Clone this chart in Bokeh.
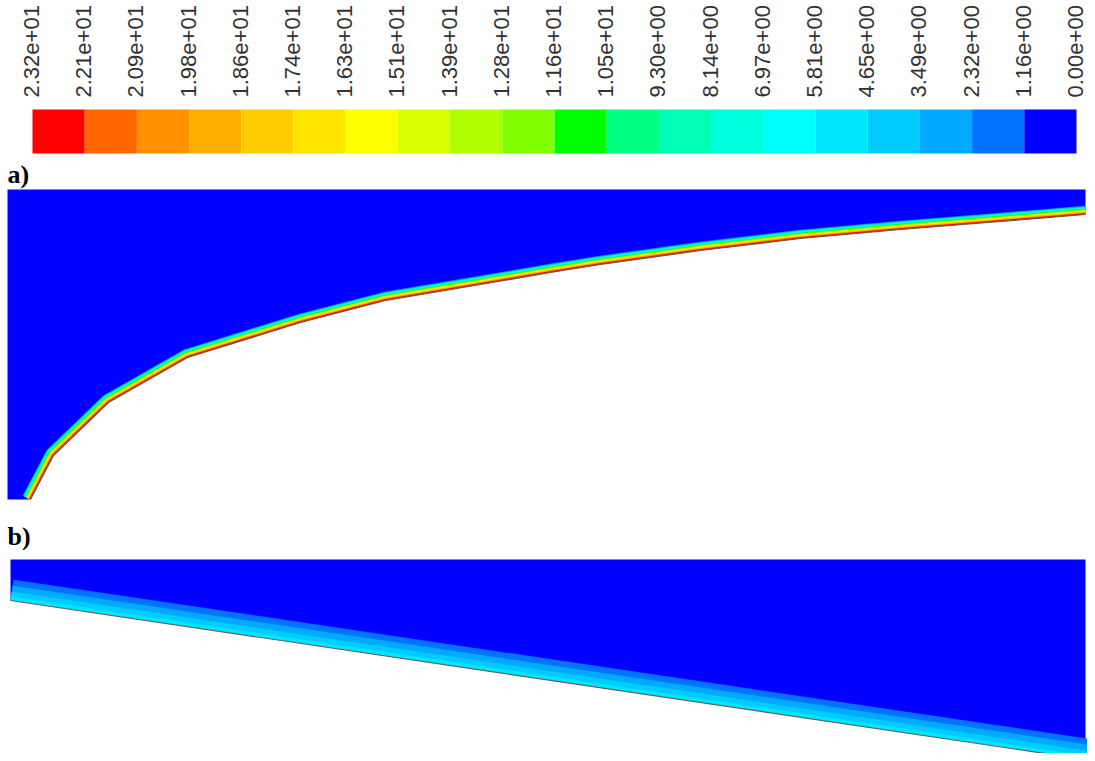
import numpy as np
from bokeh.plotting import figure
from bokeh.models import Range1d
from bokeh.core.properties import value
from bokeh.embed import file_html
from bokeh.resources import INLINE

# ---------------- data ----------------
level_labels = ["2.32e+01", "2.21e+01", "2.09e+01", "1.98e+01", "1.86e+01", "1.74e+01",
                "1.63e+01", "1.51e+01", "1.39e+01", "1.28e+01", "1.16e+01", "1.05e+01",
                "9.30e+00", "8.14e+00", "6.97e+00", "5.81e+00", "4.65e+00", "3.49e+00",
                "2.32e+00", "1.16e+00", "0.00e+00"]
level_colors = ["#ff0000", "#ff6600", "#ff9000", "#ffb000", "#ffcc00", "#ffe600", "#ffff00",
                "#d9ff00", "#afff00", "#80ff00", "#00ff00", "#00ff80", "#00ffb4", "#00ffdc",
                "#00ffff", "#00e6ff", "#00ccff", "#00aaff", "#0073ff", "#0000ff"]

# wall contour of case a) (image coordinates)
wall_a_x = [30, 53, 108, 187, 300, 385, 480, 550, 600, 700, 800, 900, 1000, 1085]
wall_a_y = [499, 455, 402, 357, 322, 300, 284, 272, 264, 250, 238, 229, 221, 214]
# wall contour of case b)
wall_b_x = [10, 1085]
wall_b_y = [600, 759]
# contour levels present in the wall layer of b) (index into level_colors)
b_levels = [18, 17, 16, 15]

# ---------------- figure ----------------
W, H = 1087, 753
p = figure(width=W, height=H, x_range=Range1d(0, W), y_range=Range1d(H, 0),
           output_backend="svg", toolbar_location=None, min_border=0,
           x_axis_type=None, y_axis_type=None, background_fill_color="white",
           border_fill_color="white")
p.grid.visible = False
p.outline_line_color = None

# colorbar
cb_x0, cb_x1, cb_top, cb_bot = 32, 1076, 109, 153
n = len(level_colors)
sw = (cb_x1 - cb_x0) / n
lefts = [cb_x0 + i * sw for i in range(n)]
rights = [l + sw for l in lefts]
p.quad(left=lefts, right=rights, top=cb_top, bottom=cb_bot,
       fill_color=level_colors, line_color=None)

lab_x = [cb_x0 + k * sw - 1 for k in range(len(level_labels))]
p.text(x=lab_x, y=[97] * len(level_labels), text=level_labels, angle=np.pi / 2,
       text_align="left", text_baseline="middle", text_font=value("Liberation Sans"),
       text_font_size="22px", text_color="#333333")

# panel labels
p.text(x=[7], y=[174], text=["a)"], text_font=value("Liberation Serif"),
       text_font_style="bold", text_font_size="26px", text_color="black",
       text_baseline="alphabetic")
p.text(x=[7], y=[536], text=["b)"], text_font=value("Liberation Serif"),
       text_font_style="bold", text_font_size="26px", text_color="black",
       text_baseline="alphabetic")

# ---------- panel a ----------
p.quad(left=7, right=1085, top=189, bottom=499, fill_color="#0000ff", line_color=None)
n_a = n - 1  # colored layers (excluding background blue)
for i in range(n_a - 1, -1, -1):
    off = 1.2 + i * 0.42
    p.line(wall_a_x, wall_a_y, line_width=2 * off, line_color=level_colors[i],
           line_join="round", line_cap="butt")
p.patch(x=wall_a_x + [1092, 1092, 24], y=wall_a_y + [214, 506, 506],
        fill_color="white", line_color=None)
p.line(wall_a_x, wall_a_y, line_width=1.2, line_color="#6b5a4a")

# ---------- panel b ----------
p.quad(left=10, right=1085, top=559, bottom=762, fill_color="#0000ff", line_color=None)
b_offsets = [21, 15, 9, 4]
for lv, off in zip(b_levels, b_offsets):
    p.line(wall_b_x, wall_b_y, line_width=2 * off, line_color=level_colors[lv],
           line_join="round", line_cap="butt")
p.patch(x=wall_b_x + [1092, 1092, 4, 4], y=wall_b_y + [759, 790, 790, 600],
        fill_color="white", line_color=None)
p.line(wall_b_x, wall_b_y, line_width=1.2, line_color="#606060")

open("out.html", "w").write(file_html(p, INLINE))
